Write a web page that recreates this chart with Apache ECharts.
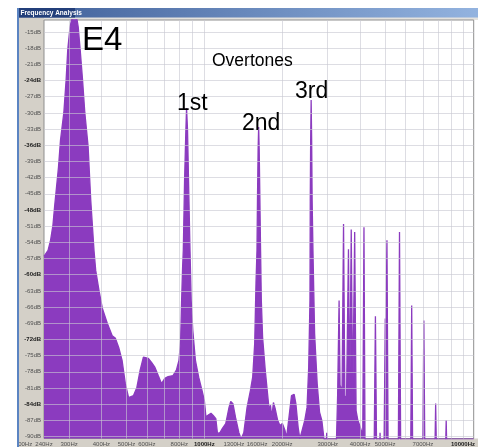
<!DOCTYPE html>
<html>
<head>
<meta charset="utf-8">
<script src="https://cdn.jsdelivr.net/npm/echarts@6/dist/echarts.min.js"></script>
<style>
  html, body { margin: 0; padding: 0; background: #ffffff; }
  #chart { width: 478px; height: 447px; }
</style>
</head>
<body>
<div id="chart"></div>
<script>
// Spectrum of an E4 note: [frequency in Hz, level in dB]
const fundamental = [
  [240, -56.6], [248.8, -55.5], [254.5, -53.6], [259.9, -50.8], [263.6, -47.5], [267.6, -44.3],
  [273, -40.1], [277.9, -35.1], [286.3, -30.0], [292.2, -23.9], [296.5, -18.3], [302.6, -14.1],
  [307.1, -12.6], [314.2, -12.4], [321.8, -12.6], [325.5, -14.1], [331.2, -18.3], [338.3, -23.9],
  [345.2, -30.0], [355.4, -36.2], [363.9, -46.2], [374.6, -55.5], [380.3, -59.2], [391.5, -62.9],
  [403.3, -66.2], [421.5, -69.0], [440.4, -71.3], [453.4, -71.8], [466.7, -73.5], [480.9, -75.9],
  [495, -80.2], [509.6, -82.8], [517.3, -83.1], [532.5, -82.4], [548.6, -80.9], [564.8, -77.7],
  [581.4, -75.3], [590.1, -75.0], [607.5, -75.5], [626, -76.3], [644.4, -77.2], [663.4, -78.7],
  [683.5, -80.2], [703.6, -79.2], [724.3, -78.9], [756.9, -78.7], [779.8, -77.7], [797.9, -75.9],
  [809.9, -72.2], [817, -64.8], [824.2, -58.6]
];
const firstOvertone = [
  [829.3, -55.5], [838.8, -42.5], [848.5, -33.2], [853.7, -29.1], [861.2, -33.2], [868.8, -42.5],
  [880.4, -55.5], [889.7, -64.8], [902.3, -70.3], [923.9, -75.9], [951.1, -79.0], [980, -81.5],
  [1000, -83.3], [1015, -86.5], [1029, -86.1], [1061, -85.7], [1082, -86.1], [1108, -86.7],
  [1124, -89.4], [1148, -89.3], [1175, -88.5], [1210, -87.6], [1246, -84.6], [1265, -83.5],
  [1290, -83.9], [1321, -86.5], [1360, -89.3], [1388, -90.4], [1421, -89.3], [1463, -84.6],
  [1507, -81.5], [1538, -79.0], [1566, -72.7], [1584, -61.6]
];
const secondOvertone = [
  [1598, -55.5], [1605, -46.2], [1614, -36.9], [1622, -32.6], [1630, -36.9], [1640, -46.2],
  [1650, -55.5], [1661, -64.8], [1680, -71.6], [1720, -77.7], [1755, -82.0], [1782, -85.2],
  [1802, -84.2], [1823, -86.5], [1850, -83.7], [1878, -84.8], [1921, -87.0], [1962, -88.0],
  [2003, -87.6], [2051, -88.9], [2080, -90.2], [2124, -86.5], [2173, -82.4], [2225, -82.2],
  [2259, -83.9], [2305, -88.3], [2340, -90.4], [2387, -88.9], [2445, -87.0], [2495, -84.6],
  [2532, -77.2], [2561, -64.8]
];
const thirdOvertone = [
  [2568, -46.2], [2577, -35.1], [2588, -27.6], [2600, -35.1], [2611, -46.2], [2630, -55.5],
  [2669, -70.9], [2731, -80.2], [2789, -85.5], [2846, -87.0], [2897, -90.2], [2935, -93],
  [2974, -89.3], [3000, -93]
];
const upperPartials = [
  [3233, -93], [3276, -82.4], [3319, -64.8], [3348, -80.5], [3408, -81.5], [3453, -50.6],
  [3493, -82.4], [3545, -83.3], [3608, -55.3], [3649, -83.3], [3698, -51.6], [3747, -84.2],
  [3813, -52.1], [3861, -85.2], [3922, -87.0], [3992, -88.0], [4045, -88.9], [4098, -89.3],
  [4142, -51.2], [4182, -93], [4534, -93], [4586, -67.7], [4635, -93], [4758, -93],
  [4779, -89.3], [4801, -93], [4950, -93], [5007, -68.1], [5038, -70.3], [5082, -53.6],
  [5136, -93], [5623, -93], [5683, -52.1], [5743, -93], [6279, -93], [6334, -65.7],
  [6390, -93], [6995, -93], [7057, -68.5], [7119, -93], [7786, -93], [7840, -83.9],
  [7896, -93], [8559, -93], [8611, -87.0], [8665, -93], [11000, -93]
];

// Axis ticks and labels
const dbTicks = [-15, -18, -21, -24, -27, -30, -33, -36, -39, -42, -45, -48, -51, -54, -57,
                 -60, -63, -66, -69, -72, -75, -78, -81, -84, -87, -90];
const boldDb = [-24, -36, -48, -60, -72, -84];
const gridHz = [300, 400, 500, 600, 700, 800, 900, 1000, 2000, 3000, 4000, 5000, 6000, 7000, 8000, 9000, 10000];
const labelHz = [240, 300, 400, 500, 600, 800, 1000, 1300, 1600, 2000, 3000, 4000, 5000, 7000, 10000];
const boldHz = [1000, 10000];
const offscaleLabelHz = 200;

const spectrum = [].concat(fundamental, firstOvertone, secondOvertone, thirdOvertone, upperPartials);

const PURPLE = '#8b3bbf';
const FONT = 'Liberation Sans';
const PANEL = '#d4d0c8';
const GRIDLINE = 'rgba(200,200,210,0.62)';

function hzText(v) {
  const f = Math.round(v);
  return (boldHz.indexOf(f) >= 0 ? '{b|' : '{n|') + f + 'Hz}';
}
function dbText(v) {
  const d = Math.round(v);
  return (boldDb.indexOf(d) >= 0 ? '{b|' : '{n|') + d + 'dB}';
}
const richTicks = {
  n: { fontFamily: FONT, fontSize: 6, color: '#505050' },
  b: { fontFamily: FONT, fontSize: 6, color: '#1a1a1a', fontWeight: 'bold' }
};

function frameElements(extra) {
  const els = [
    { type: 'rect', id: 'yPanel', z: -1, shape: { x: 19, y: 17, width: 25, height: 430 }, style: { fill: PANEL } },
    { type: 'rect', id: 'xPanel', z: -1, shape: { x: 19, y: 438.5, width: 459, height: 9 }, style: { fill: PANEL } },
    { type: 'rect', id: 'topStrip', z: -1, shape: { x: 44, y: 17, width: 434, height: 3 }, style: { fill: '#e4e2de' } },
    { type: 'rect', id: 'titleBar', z: 20, shape: { x: 19, y: 8, width: 459, height: 9.5 },
      style: { fill: new echarts.graphic.LinearGradient(0, 0, 1, 0, [
        { offset: 0, color: '#3f5f99' }, { offset: 1, color: '#93b3df' }]) } },
    { type: 'rect', id: 'titleBox', z: 21, shape: { x: 19, y: 8, width: 56, height: 9.5 }, style: { fill: '#233f7a' } },
    { type: 'text', id: 'titleText', z: 22, x: 20.5, y: 12.8,
      style: { text: 'Frequency Analysis', fill: '#ffffff', font: 'bold 6.5px ' + FONT, verticalAlign: 'middle' } },
    { type: 'rect', id: 'outside', z: 20, shape: { x: 0, y: 0, width: 17, height: 447 }, style: { fill: '#ffffff' } },
    { type: 'rect', id: 'outsideTop', z: 20, shape: { x: 0, y: 0, width: 478, height: 8 }, style: { fill: '#ffffff' } },
    { type: 'rect', id: 'edge', z: 21, shape: { x: 17, y: 8, width: 2, height: 439 }, style: { fill: '#5b84c2' } },
    { type: 'text', id: 'noteName', z: 10, x: 82, y: 40.5,
      style: { text: 'E4', fill: '#000', font: '33px ' + FONT, verticalAlign: 'middle' } },
    { type: 'text', id: 'overtones', z: 10, x: 212, y: 61.5,
      style: { text: 'Overtones', fill: '#000', font: '17.5px ' + FONT, verticalAlign: 'middle' } },
    { type: 'text', id: 'first', z: 10, x: 177, y: 103.5,
      style: { text: '1st', fill: '#000', font: '23px ' + FONT, verticalAlign: 'middle' } },
    { type: 'text', id: 'second', z: 10, x: 242, y: 123.5,
      style: { text: '2nd', fill: '#000', font: '23px ' + FONT, verticalAlign: 'middle' } },
    { type: 'text', id: 'third', z: 10, x: 295, y: 91.5,
      style: { text: '3rd', fill: '#000', font: '23px ' + FONT, verticalAlign: 'middle' } }
  ];
  return els.concat(extra || []);
}

const chart = echarts.init(document.getElementById('chart'), null, { renderer: 'canvas' });

chart.setOption({
  animation: false,
  backgroundColor: '#ffffff',
  grid: {
    left: 44, right: 0, top: 20, bottom: 8.5,
    show: true, backgroundColor: '#ffffff', borderColor: '#8f8f8f', borderWidth: 1
  },
  xAxis: {
    type: 'log', logBase: 10, min: 240, max: 11000, z: 3,
    axisLine: { show: false },
    axisTick: { show: false, customValues: gridHz },
    splitLine: { show: true, lineStyle: { color: GRIDLINE, width: 1 } },
    minorSplitLine: { show: false },
    axisLabel: {
      customValues: labelHz, margin: 2.5, fontSize: 6, fontFamily: FONT,
      formatter: hzText, rich: richTicks, hideOverlap: false
    }
  },
  yAxis: {
    type: 'value', min: -90.37, max: -12.77, z: 3,
    axisLine: { show: false },
    axisTick: { show: false, customValues: dbTicks },
    splitLine: { show: true, lineStyle: { color: GRIDLINE, width: 1 } },
    axisLabel: {
      customValues: dbTicks, margin: 3, fontSize: 6, fontFamily: FONT,
      formatter: dbText, rich: richTicks
    }
  },
  series: [{
    type: 'line',
    data: spectrum,
    symbol: 'none',
    showSymbol: false,
    clip: true,
    silent: true,
    z: 2,
    lineStyle: { color: PURPLE, width: 1.3 },
    areaStyle: { color: PURPLE, opacity: 1, origin: 'start' }
  }],
  graphic: { elements: frameElements() }
});

// The 200 Hz label sits left of the plotted range, under the dB column
const px200 = chart.convertToPixel({ xAxisIndex: 0 }, offscaleLabelHz);
chart.setOption({
  graphic: { elements: frameElements([
    { type: 'text', id: 'hz200', z: 5, x: px200, y: 444.3,
      style: { text: offscaleLabelHz + 'Hz', fill: '#505050', font: '6px ' + FONT, align: 'center', verticalAlign: 'middle' } }
  ]) }
});
</script>
</body>
</html>
